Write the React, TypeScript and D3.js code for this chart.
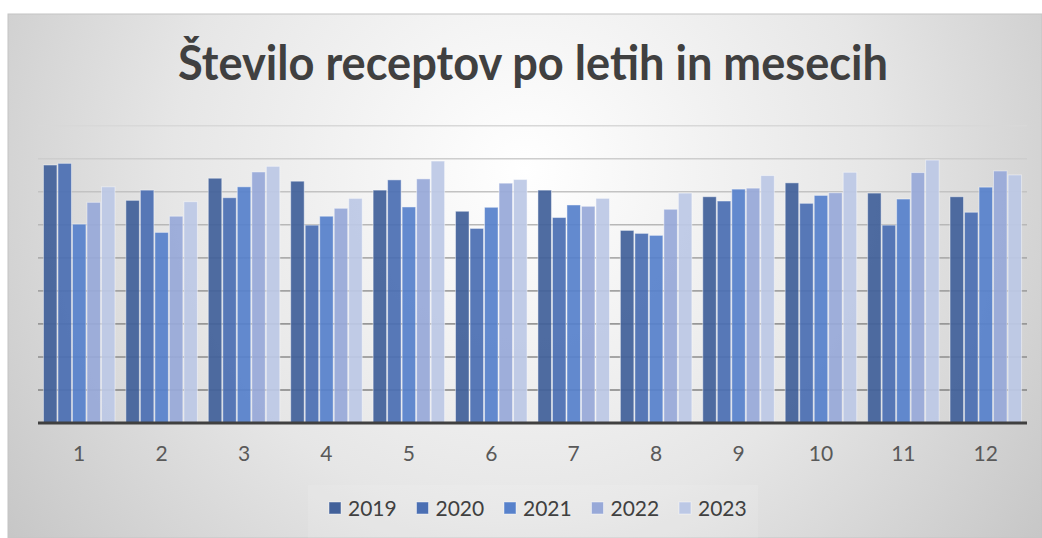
import React from "react"
import * as d3 from "d3"

// months on the x axis
const months = ["1", "2", "3", "4", "5", "6", "7", "8", "9", "10", "11", "12"]
const years = ["2019", "2020", "2021", "2022", "2023"]

// number of prescriptions per month (approx.)
const v2019 = [78100, 67400, 74100, 73200, 70500, 64100, 70500, 58300, 68500, 72700, 69600, 68500]
const v2020 = [78600, 70500, 68200, 59900, 73600, 58900, 62200, 57400, 67200, 66500, 59900, 63800]
const v2021 = [60200, 57700, 71500, 62600, 65400, 65300, 66000, 56800, 70800, 68900, 67800, 71400]
const v2022 = [66800, 62600, 76000, 65000, 73900, 72600, 65600, 64700, 71100, 69700, 75800, 76300]
const v2023 = [71500, 67000, 77700, 68000, 79300, 73700, 68000, 69600, 74900, 75900, 79600, 75100]
const gridTicks = [0, 10000, 20000, 30000, 40000, 50000, 60000, 70000, 80000, 90000]

const seriesValues = [v2019, v2020, v2021, v2022, v2023]
const colors = ["#42619A", "#4B6FB3", "#5781CB", "#98A9D8", "#BCC8E5"]

const W = 1042
const H = 538
const plot = { left: 38, right: 1027, top: 125.7, bottom: 423 }

const App = () => {
  const x0 = d3
    .scaleBand()
    .domain(months)
    .range([plot.left, plot.right])
    .paddingInner(0.12)
    .paddingOuter(0.06)

  const x1 = d3.scaleBand().domain(years).range([0, x0.bandwidth()])

  const y = d3
    .scaleLinear()
    .domain([0, d3.max(gridTicks)])
    .range([plot.bottom, plot.top])

  const legendStart = 329
  const legendStep = 87.5

  return (
    <svg
      width={W}
      height={H}
      style={{ position: "absolute", left: 0, top: 0, display: "block" }}
      fontFamily="Lato, 'Open Sans', sans-serif"
    >
      <defs>
        <radialGradient id="bg" gradientUnits="userSpaceOnUse" cx="525" cy="170" r="640">
          <stop offset="0" stopColor="#ffffff" />
          <stop offset="0.55" stopColor="#e6e6e6" />
          <stop offset="1" stopColor="#c6c6c6" />
        </radialGradient>
        <linearGradient id="grid" gradientUnits="userSpaceOnUse" x1="0" y1={plot.top} x2="0" y2={plot.bottom}>
          <stop offset="0" stopColor="#d8d8d8" />
          <stop offset="1" stopColor="#777777" />
        </linearGradient>
      </defs>

      <rect x={0} y={0} width={W} height={H} fill="#ffffff" />
      <rect x={8} y={14} width={W - 8} height={H - 14} fill="url(#bg)" stroke="#c4c4c4" strokeWidth={1} />

      <text
        x={533}
        y={80}
        textAnchor="middle"
        fontSize={48}
        fontWeight={700}
        fill="#404040"
        textLength={710}
        lengthAdjust="spacingAndGlyphs"
      >
        Število receptov po letih in mesecih
      </text>

      {/* gridlines */}
      <g>
        {gridTicks.slice(1).map(t => (
          <line
            key={t}
            x1={plot.left}
            x2={plot.right}
            y1={y(t)}
            y2={y(t)}
            stroke="url(#grid)"
            strokeWidth={1.6}
          />
        ))}
      </g>

      {/* bars */}
      <g>
        {months.map((m, i) => (
          <g key={m} transform={`translate(${x0(m)},0)`}>
            {years.map((yr, j) => {
              const v = seriesValues[j][i]
              return (
                <rect
                  key={yr}
                  x={x1(yr)! + 0.5}
                  y={y(v)}
                  width={x1.bandwidth() - 1}
                  height={y(0) - y(v)}
                  fill={colors[j]}
                  fillOpacity={0.93}
                  stroke="#ffffff"
                  strokeOpacity={0.45}
                  strokeWidth={1}
                />
              )
            })}
          </g>
        ))}
      </g>

      {/* baseline */}
      <line x1={plot.left} x2={plot.right} y1={y(0)} y2={y(0)} stroke="#404040" strokeWidth={3} />

      {/* x labels */}
      <g fontSize={21} fill="#595959" textAnchor="middle">
        {months.map(m => (
          <text key={m} x={x0(m)! + x0.bandwidth() / 2} y={461}>
            {m}
          </text>
        ))}
      </g>

      {/* legend */}
      <rect x={308} y={485} width={450} height={53} fill="#ffffff" fillOpacity={0.1} />
      <g fontSize={21} fill="#404040">
        {years.map((yr, j) => (
          <g key={yr} transform={`translate(${legendStart + j * legendStep},0)`}>
            <rect x={0} y={502} width={12} height={12} fill={colors[j]} stroke="#ffffff" strokeOpacity={0.45} />
            <text x={19} y={515.5}>
              {yr}
            </text>
          </g>
        ))}
      </g>
    </svg>
  )
}

export default App
